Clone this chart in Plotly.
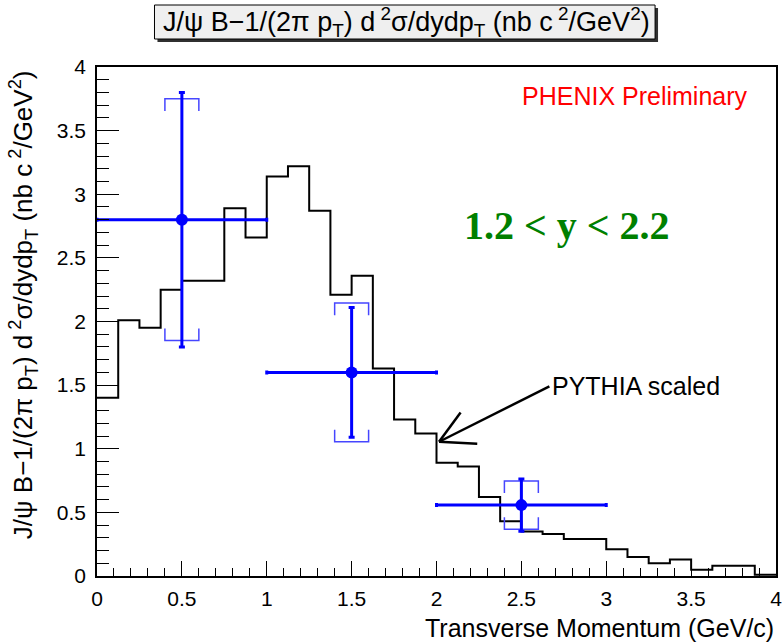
import plotly.graph_objects as go

# ---------------- data ----------------
bin_width = 0.125
bin_edges = [i * bin_width for i in range(33)]
pythia_values = [1.40, 2.01, 1.95, 2.25, 2.32, 2.32, 2.89, 2.66,
                 3.14, 3.22, 2.87, 2.21, 2.36, 1.63, 1.23, 1.12,
                 0.89, 0.86, 0.62, 0.43, 0.35, 0.33, 0.29, 0.29,
                 0.21, 0.15, 0.10, 0.13, 0.05, 0.08, 0.08, 0.01]

pt_points = [0.5, 1.5, 2.5]
xsec_points = [2.80, 1.60, 0.557]
pt_halfwidth = [0.5, 0.5, 0.5]
stat_err = [1.0, 0.51, 0.205]
sys_err = [0.95, 0.545, 0.19]
bracket_halfwidth = 0.1
bracket_arm = 0.095

x_ticks = [0, 0.5, 1, 1.5, 2, 2.5, 3, 3.5, 4]
y_ticks = [0, 0.5, 1, 1.5, 2, 2.5, 3, 3.5, 4]

# arrow (data coords): tip and tail
arrow_tip = (2.015, 1.055)
arrow_tail = (2.665, 1.49)
arrow_arms = [(2.142, 1.284), (2.24, 1.04)]

# ---------------- figure ----------------
W, H = 783, 643
ML, MR, MT, MB = 97, 1, 67, 67
PW, PH = W - ML - MR, H - MT - MB


def px(xp):
    return (xp - ML) / PW


def py(yp):
    return (H - MB - yp) / PH


fig = go.Figure()

# PYTHIA histogram
fig.add_trace(go.Scatter(
    x=bin_edges, y=pythia_values + [pythia_values[-1]],
    mode="lines", line=dict(color="black", width=2, shape="hv"),
    hoverinfo="skip", showlegend=False))

# systematic brackets
bx, by = [], []
for x, y, s in zip(pt_points, xsec_points, sys_err):
    top = y + s
    bot = y - s
    bx += [x - bracket_halfwidth, x - bracket_halfwidth, x + bracket_halfwidth, x + bracket_halfwidth, None]
    by += [top - bracket_arm, top, top, top - bracket_arm, None]
    bx += [x - bracket_halfwidth, x - bracket_halfwidth, x + bracket_halfwidth, x + bracket_halfwidth, None]
    by += [bot + bracket_arm, bot, bot, bot + bracket_arm, None]
fig.add_trace(go.Scatter(
    x=bx, y=by, mode="lines",
    line=dict(color="rgb(70,70,255)", width=1.5),
    hoverinfo="skip", showlegend=False))

# data points
fig.add_trace(go.Scatter(
    x=pt_points, y=xsec_points, mode="markers",
    marker=dict(color="#0000ff", size=12, symbol="circle"),
    error_x=dict(type="data", array=pt_halfwidth, color="#0000ff", thickness=3, width=2),
    error_y=dict(type="data", array=stat_err, color="#0000ff", thickness=3, width=3),
    showlegend=False))

# arrow lines
ax_x, ax_y = [arrow_tail[0], arrow_tip[0], None], [arrow_tail[1], arrow_tip[1], None]
for a in arrow_arms:
    ax_x += [a[0], arrow_tip[0], None]
    ax_y += [a[1], arrow_tip[1], None]
fig.add_trace(go.Scatter(x=ax_x, y=ax_y, mode="lines",
                         line=dict(color="black", width=2.5),
                         hoverinfo="skip", showlegend=False))

tickfont = dict(family="Liberation Sans", size=21, color="black")

fig.update_xaxes(
    range=[0, 4], tickmode="array", tickvals=x_ticks,
    ticktext=[f"{v:g}" for v in x_ticks],
    ticks="inside", ticklen=15, tickwidth=1, tickcolor="black",
    minor=dict(ticks="inside", ticklen=8, dtick=0.1, tickcolor="black", tickwidth=1),
    showline=True, mirror=True, linecolor="black", linewidth=1.5,
    showgrid=False, zeroline=False, tickfont=tickfont, ticklabelstandoff=3,
    ticklabeloverflow="allow")
fig.update_yaxes(
    range=[0, 4], tickmode="array", tickvals=y_ticks,
    ticktext=[f"{v:g}" for v in y_ticks],
    ticks="inside", ticklen=22, tickwidth=1, tickcolor="black",
    minor=dict(ticks="inside", ticklen=12, dtick=0.1, tickcolor="black", tickwidth=1),
    showline=True, mirror=True, linecolor="black", linewidth=1.5,
    showgrid=False, zeroline=False, tickfont=tickfont, ticklabelstandoff=5,
    ticklabeloverflow="allow")

shapes = [
    # title box shadow
    dict(type="rect", xref="paper", yref="paper",
         x0=px(158), x1=px(663), y0=py(42), y1=py(8),
         fillcolor="#303030", line=dict(width=0), layer="above"),
    # title box
    dict(type="rect", xref="paper", yref="paper",
         x0=px(155), x1=px(660), y0=py(39), y1=py(5),
         fillcolor="#efefef", line=dict(color="black", width=1), layer="above"),
]

label = "J/ψ B−1/(2π p<sub>T</sub>) d<sup> 2</sup>σ/dydp<sub>T</sub> (nb c<sup> 2</sup>/GeV<sup>2</sup>)"

annotations = [
    dict(text=label,
         xref="paper", yref="paper", x=px(409), y=py(22), xanchor="center", yanchor="middle",
         showarrow=False, font=dict(family="Liberation Sans", size=27, color="black")),
    dict(text=label,
         xref="paper", yref="paper", x=px(22), y=py(68), xanchor="center", yanchor="top",
         textangle=-90, showarrow=False,
         font=dict(family="Liberation Sans", size=26, color="black")),
    dict(text="Transverse Momentum (GeV/c)", xref="paper", yref="paper",
         x=px(782), y=py(628), xanchor="right", yanchor="middle", showarrow=False,
         font=dict(family="Liberation Sans", size=25, color="black")),
    dict(text="PHENIX Preliminary", xref="paper", yref="paper",
         x=px(640), y=py(96), xanchor="center", yanchor="middle", showarrow=False,
         font=dict(family="Liberation Sans", size=25, color="#ff0000")),
    dict(text="<b>1.2 &lt; y &lt; 2.2</b>", xref="paper", yref="paper",
         x=px(571), y=py(226), xanchor="center", yanchor="middle", showarrow=False,
         font=dict(family="Liberation Serif", size=40, color="#008000")),
    dict(text="PYTHIA scaled", xref="paper", yref="paper",
         x=px(641), y=py(386), xanchor="center", yanchor="middle", showarrow=False,
         font=dict(family="Liberation Sans", size=25, color="black")),
]

fig.update_layout(
    width=W, height=H,
    margin=dict(l=ML, r=MR, t=MT, b=MB),
    paper_bgcolor="white", plot_bgcolor="white",
    shapes=shapes, annotations=annotations,
    showlegend=False,
)

fig.write_html("out.html")
